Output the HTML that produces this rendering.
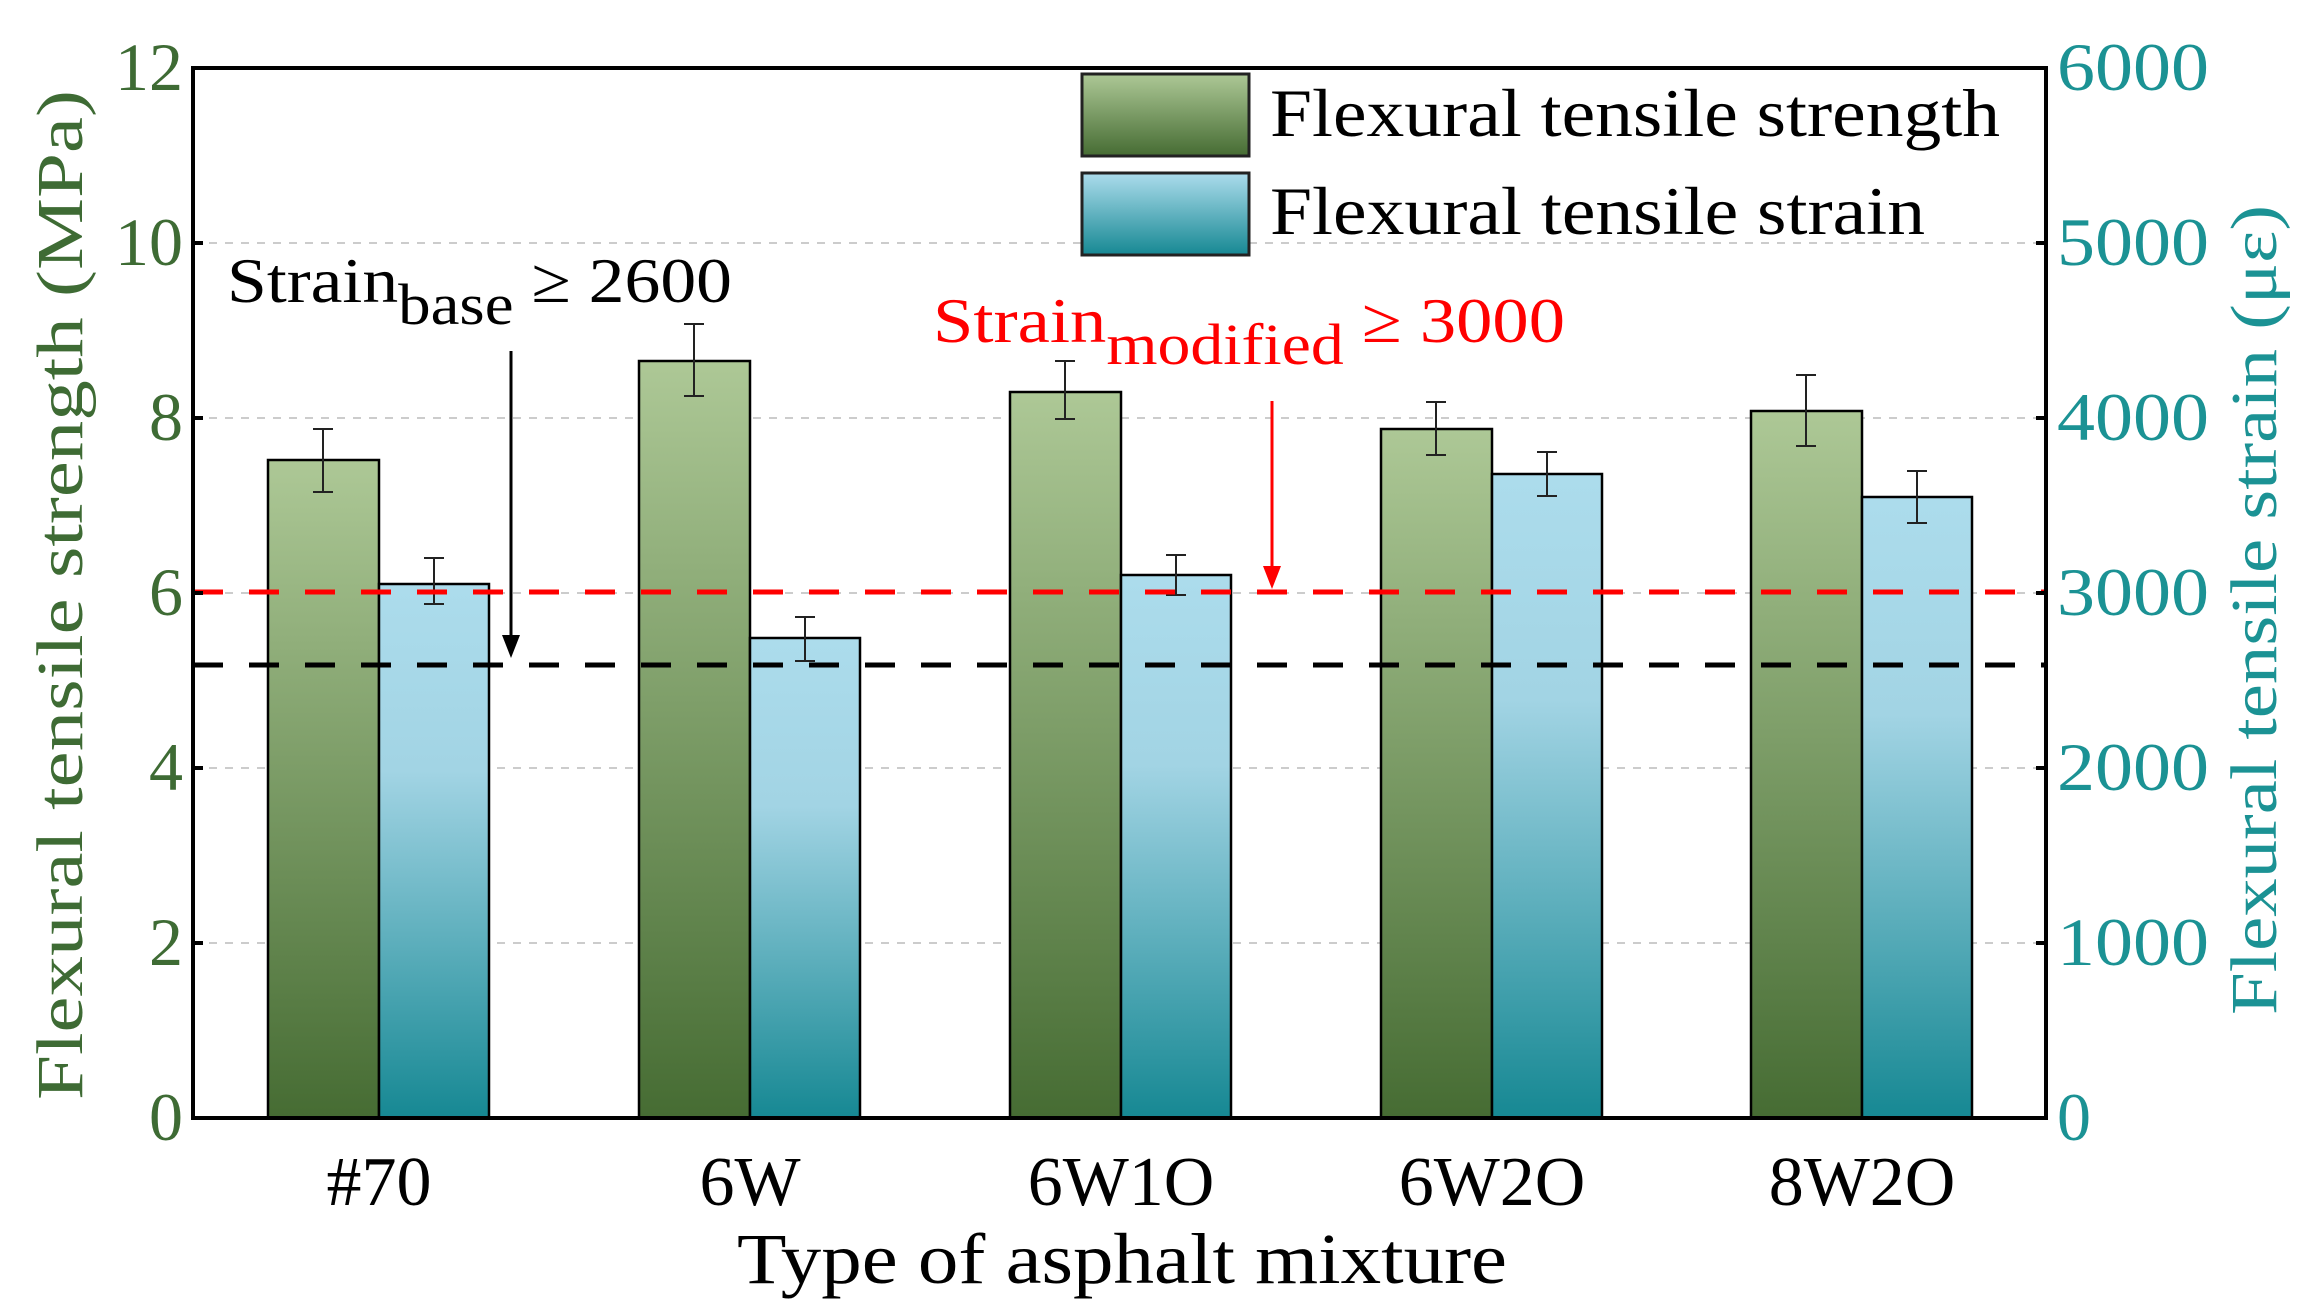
<!DOCTYPE html>
<html><head><style>html,body{margin:0;padding:0;background:#fff}svg{display:block}text{font-family:"Liberation Serif","Times New Roman",serif}</style></head><body>
<svg width="2302" height="1310" viewBox="0 0 2302 1310" xmlns="http://www.w3.org/2000/svg" style="font-family:'Liberation Serif','Times New Roman',serif">
<defs>
<linearGradient id="g" x1="0" y1="0" x2="0" y2="1"><stop offset="0" stop-color="#adc896"/><stop offset="1" stop-color="#466c33"/></linearGradient>
<linearGradient id="b" x1="0" y1="0" x2="0" y2="1"><stop offset="0" stop-color="#acdcec"/><stop offset="0.35" stop-color="#a2d4e4"/><stop offset="1" stop-color="#168893"/></linearGradient>
<linearGradient id="gl" x1="0" y1="0" x2="0" y2="1"><stop offset="0" stop-color="#adc896"/><stop offset="1" stop-color="#466c33"/></linearGradient>
<linearGradient id="bl" x1="0" y1="0" x2="0" y2="1"><stop offset="0" stop-color="#acdcec"/><stop offset="1" stop-color="#168893"/></linearGradient>
</defs>
<g stroke="#ccc" stroke-width="2" stroke-dasharray="8,8">
<line x1="193" y1="243" x2="2046" y2="243"/><line x1="193" y1="418" x2="2046" y2="418"/><line x1="193" y1="593" x2="2046" y2="593"/><line x1="193" y1="768" x2="2046" y2="768"/><line x1="193" y1="943" x2="2046" y2="943"/>
</g>
<g stroke="#000" stroke-width="2.5">
<rect x="268" y="460" width="111" height="658" fill="url(#g)"/><rect x="379" y="584" width="110" height="534" fill="url(#b)"/>
<rect x="639" y="361" width="111" height="757" fill="url(#g)"/><rect x="750" y="638" width="110" height="480" fill="url(#b)"/>
<rect x="1010" y="392" width="111" height="726" fill="url(#g)"/><rect x="1121" y="575" width="110" height="543" fill="url(#b)"/>
<rect x="1381" y="429" width="111" height="689" fill="url(#g)"/><rect x="1492" y="474" width="110" height="644" fill="url(#b)"/>
<rect x="1751" y="411" width="111" height="707" fill="url(#g)"/><rect x="1862" y="497" width="110" height="621" fill="url(#b)"/>
</g>
<g stroke="#222" stroke-width="2" fill="none">
<path d="M323 429V492M313 429H333M313 492H333"/>
<path d="M434 558V604M424 558H444M424 604H444"/>
<path d="M694 324V396M684 324H704M684 396H704"/>
<path d="M805 617V661M795 617H815M795 661H815"/>
<path d="M1065 361V419M1055 361H1075M1055 419H1075"/>
<path d="M1176 555V595M1166 555H1186M1166 595H1186"/>
<path d="M1436 402V455M1426 402H1446M1426 455H1446"/>
<path d="M1547 452V496M1537 452H1557M1537 496H1557"/>
<path d="M1806 375V446M1796 375H1816M1796 446H1816"/>
<path d="M1917 471V523M1907 471H1927M1907 523H1927"/>
</g>
<line x1="193" y1="592" x2="2046" y2="592" stroke="#f00" stroke-width="5" stroke-dasharray="30,26"/>
<line x1="193" y1="665" x2="2046" y2="665" stroke="#000" stroke-width="5" stroke-dasharray="30,26"/>
<rect x="193" y="68" width="1853" height="1050" fill="none" stroke="#000" stroke-width="4"/>
<g stroke="#000" stroke-width="4">
<path d="M193 243h10M193 418h10M193 593h10M193 768h10M193 943h10"/>
<path d="M2046 243h-10M2046 418h-10M2046 593h-10M2046 768h-10M2046 943h-10"/>
</g>
<line x1="511" y1="351" x2="511" y2="640" stroke="#000" stroke-width="3"/>
<path d="M502 635L511 658L520 635Z" fill="#000"/>
<line x1="1272" y1="401" x2="1272" y2="570" stroke="#f00" stroke-width="3"/>
<path d="M1263 566L1272 589L1281 566Z" fill="#f00"/>
<text x="227" y="302" font-size="64" fill="#000" textLength="505" lengthAdjust="spacingAndGlyphs">Strain<tspan font-size="58" dy="22">base</tspan><tspan dy="-22"> ≥ 2600</tspan></text>
<text x="933" y="342" font-size="64" fill="#f00" textLength="632" lengthAdjust="spacingAndGlyphs">Strain<tspan font-size="58" dy="22">modified</tspan><tspan dy="-22"> ≥ 3000</tspan></text>
<rect x="1082" y="74" width="167" height="82" fill="url(#gl)" stroke="#222" stroke-width="3"/>
<rect x="1082" y="173" width="167" height="82" fill="url(#bl)" stroke="#222" stroke-width="3"/>
<text x="1270" y="136" font-size="68" textLength="730" lengthAdjust="spacingAndGlyphs">Flexural tensile strength</text>
<text x="1270" y="234" font-size="68" textLength="655" lengthAdjust="spacingAndGlyphs">Flexural tensile strain</text>
<g font-size="68" fill="#3e6b34" text-anchor="end">
<text x="183" y="90">12</text><text x="183" y="265">10</text><text x="183" y="440">8</text><text x="183" y="615">6</text><text x="183" y="790">4</text><text x="183" y="965">2</text><text x="183" y="1140">0</text>
</g>
<g font-size="68" fill="#1b9294">
<text x="2057" y="90" textLength="152" lengthAdjust="spacingAndGlyphs">6000</text><text x="2057" y="265" textLength="152" lengthAdjust="spacingAndGlyphs">5000</text><text x="2057" y="440" textLength="152" lengthAdjust="spacingAndGlyphs">4000</text><text x="2057" y="615" textLength="152" lengthAdjust="spacingAndGlyphs">3000</text><text x="2057" y="790" textLength="152" lengthAdjust="spacingAndGlyphs">2000</text><text x="2057" y="965" textLength="152" lengthAdjust="spacingAndGlyphs">1000</text><text x="2057" y="1140">0</text>
</g>
<text transform="translate(82,595) rotate(-90)" font-size="66" fill="#3e6b34" text-anchor="middle" textLength="1010" lengthAdjust="spacingAndGlyphs">Flexural tensile strength (MPa)</text>
<text transform="translate(2276,610) rotate(-90)" font-size="66" fill="#1b9294" text-anchor="middle" textLength="810" lengthAdjust="spacingAndGlyphs">Flexural tensile strain (με)</text>
<g font-size="70" text-anchor="middle">
<text x="379" y="1205">#70</text><text x="750" y="1205">6W</text><text x="1121" y="1205">6W1O</text><text x="1492" y="1205">6W2O</text><text x="1862" y="1205">8W2O</text>
</g>
<text x="1122" y="1283" font-size="72" text-anchor="middle" textLength="770" lengthAdjust="spacingAndGlyphs">Type of asphalt mixture</text>
</svg>
</body></html>
